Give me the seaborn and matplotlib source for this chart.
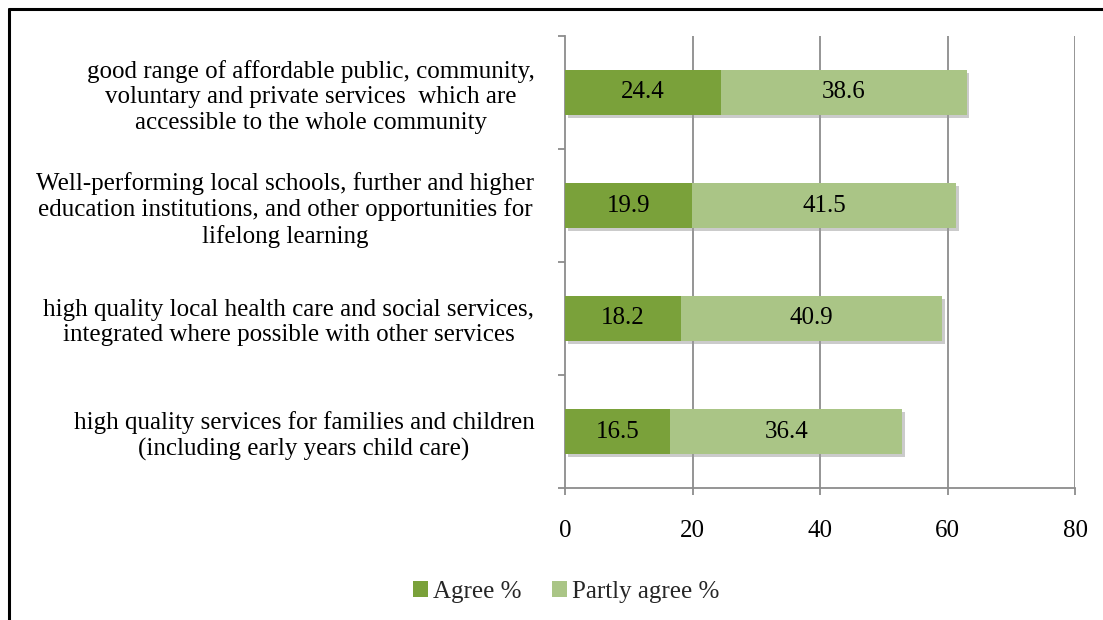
import matplotlib
matplotlib.use("Agg")
import matplotlib.pyplot as plt
import matplotlib.patheffects as pe
from matplotlib.lines import Line2D
from matplotlib.patches import Patch
import seaborn as sns
import pandas as pd

categories = [
    "good range of affordable public, community,\nvoluntary and private services  which are\naccessible to the whole community",
    "Well-performing local schools, further and higher\neducation institutions, and other opportunities for\nlifelong learning",
    "high quality local health care and social services,\nintegrated where possible with other services",
    "high quality services for families and children\n(including early years child care)",
]
agree = [24.4, 19.9, 18.2, 16.5]
partly = [38.6, 41.5, 40.9, 36.4]
series_names = ["Agree %", "Partly agree %"]
xticks = [0, 20, 40, 60, 80]

c_agree = "#7aa13a"
c_partly = "#aac586"
FS = 18

sns.set_theme(style="white")
plt.rcParams["font.family"] = ["Liberation Serif", "DejaVu Serif"]

df = pd.DataFrame({"cat": categories, "agree": agree, "partly": partly})
df["total"] = df["agree"] + df["partly"]

fig = plt.figure(figsize=(11.03, 6.20), dpi=100)
ax = fig.add_axes([565/1103, 1-488/620, 510/1103, 452/620])

shadow = [pe.SimplePatchShadow(offset=(2, -2), shadow_rgbFace="#999999", alpha=0.5), pe.Normal()]
sns.barplot(data=df, y="cat", x="total", color=c_partly, saturation=1, width=0.4,
            ax=ax, orient="h", edgecolor="none", zorder=3)
for p in ax.patches:
    p.set_path_effects(shadow)
sns.barplot(data=df, y="cat", x="agree", color=c_agree, saturation=1, width=0.4,
            ax=ax, orient="h", edgecolor="none", zorder=4)

for i, (a, b) in enumerate(zip(agree, partly)):
    ax.text(a / 2, i, f"{a:.1f}", ha="center", va="center", fontsize=FS, color="black", zorder=5)
    ax.text(a + b / 2, i, f"{b:.1f}", ha="center", va="center", fontsize=FS, color="black", zorder=5)

ax.set_xlim(0, 80)
ax.set_ylim(3.5, -0.5)
ax.set_xticks(xticks)
ax.set_xticklabels([str(t) for t in xticks], fontsize=FS)
ax.set_xlabel("")
ax.set_ylabel("")

for t in xticks[1:]:
    ax.axvline(t, color="#8c8c8c", lw=1.3, zorder=1)

for s in ["top", "right"]:
    ax.spines[s].set_visible(False)
for s in ["left", "bottom"]:
    ax.spines[s].set_color("#8c8c8c")
    ax.spines[s].set_linewidth(1.3)

ax.set_yticks([-0.5, 0.5, 1.5, 2.5, 3.5], minor=True)
ax.tick_params(axis="y", which="minor", length=5, color="#8c8c8c", width=1.3, direction="out", left=True)
ax.tick_params(axis="y", which="major", length=0, pad=22, labelsize=FS)
ax.tick_params(axis="x", which="major", length=5, color="#8c8c8c", width=1.3, direction="out", bottom=True, pad=18)
for lab in ax.get_yticklabels():
    lab.set_multialignment("center")
    lab.set_color("black")
    lab.set_linespacing(1.2)
for lab in ax.get_xticklabels():
    lab.set_color("black")

handles = [Patch(facecolor=c_agree, edgecolor="none"), Patch(facecolor=c_partly, edgecolor="none")]
fig.legend(handles, series_names, loc="center", bbox_to_anchor=(566/1103, 1-592/620), ncol=2,
           frameon=False, fontsize=FS, handlelength=0.6, handleheight=0.6, handletextpad=0.2,
           columnspacing=1.2)

fig.add_artist(Line2D([9/1103, 9/1103], [0, 1-9/620], transform=fig.transFigure, color="black", lw=2.2))
fig.add_artist(Line2D([9/1103, 1], [1-9/620, 1-9/620], transform=fig.transFigure, color="black", lw=2.2))

fig.savefig("out.png", dpi=100, facecolor="white")
